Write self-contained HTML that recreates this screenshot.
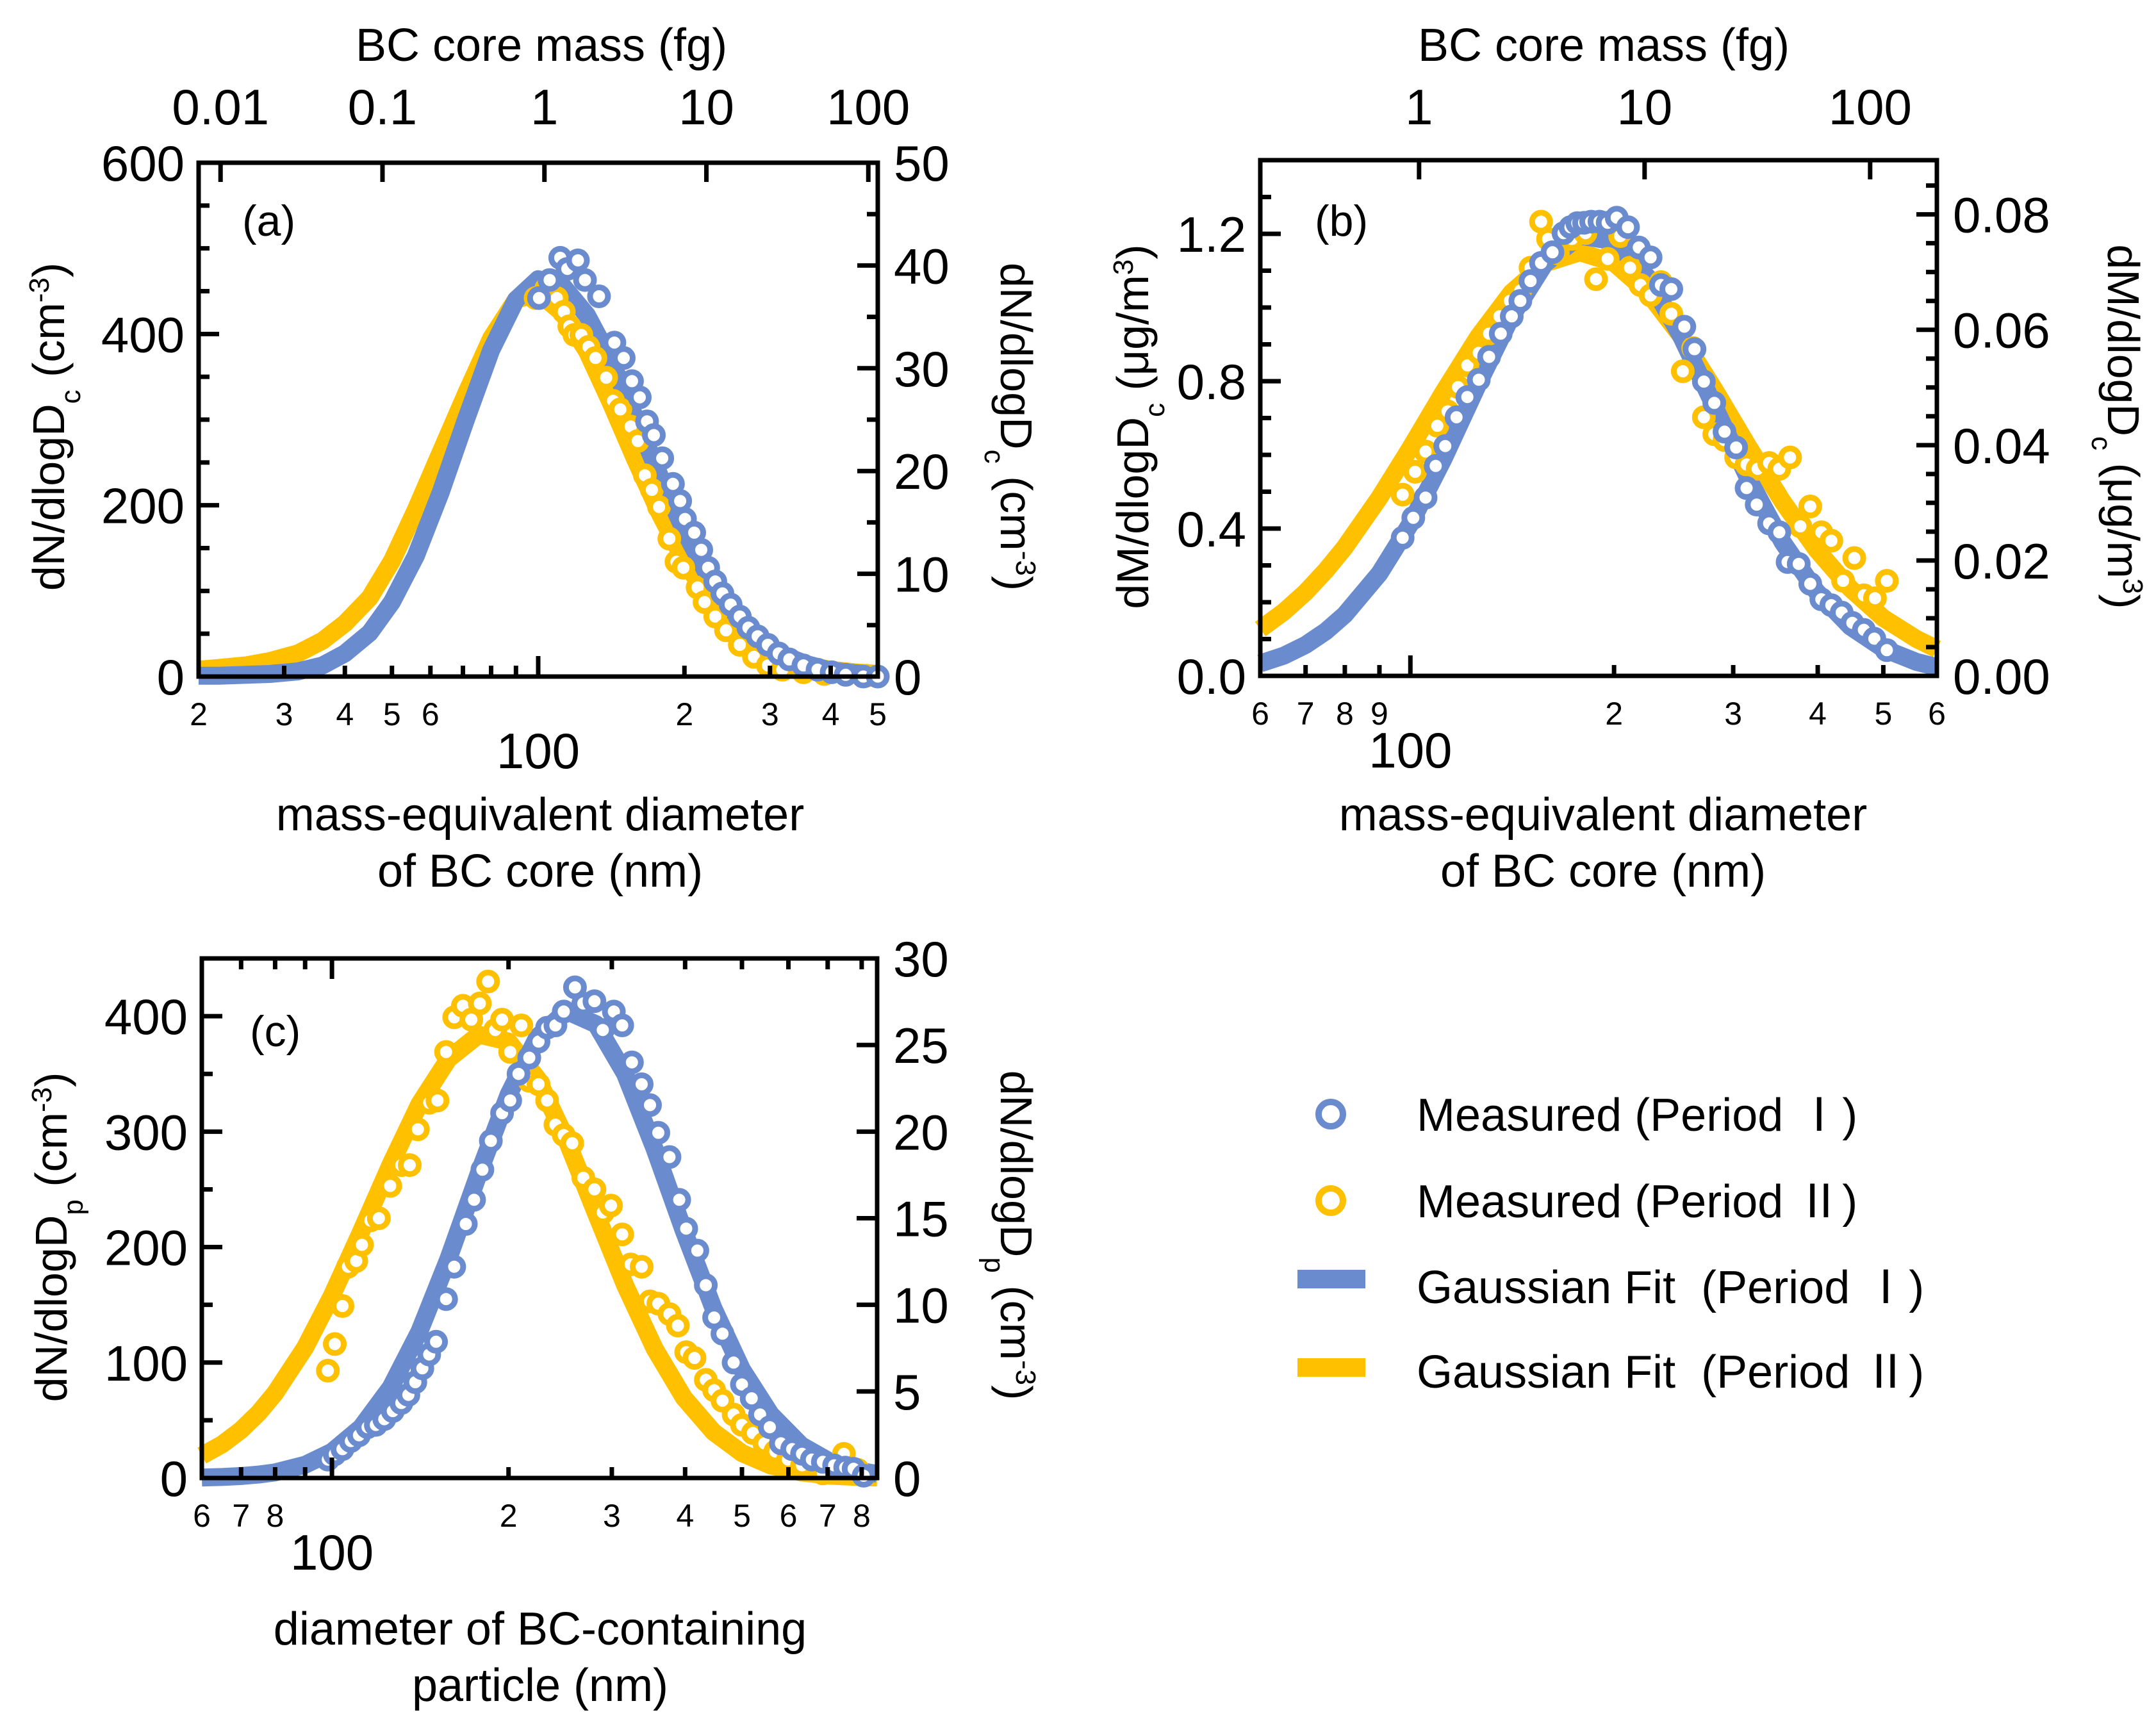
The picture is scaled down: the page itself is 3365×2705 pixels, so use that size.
<!DOCTYPE html>
<html><head><meta charset="utf-8"><style>
html,body{margin:0;padding:0;background:#fff;}
svg{display:block;}
text{font-family:"Liberation Sans","Noto Sans CJK SC",sans-serif;fill:#000;}
</style></head>
<body>
<svg id="fig" width="3365" height="2705" viewBox="0 0 3365 2705" xmlns="http://www.w3.org/2000/svg">
<rect width="3365" height="2705" fill="#fff"/>
<g id="layer"></g>
<g id="legend">
  <circle cx="2077" cy="1739" r="19" fill="#fff" stroke="#6a8ccf" stroke-width="10"/>
  <text x="2211" y="1765" font-size="72" xml:space="preserve">Measured (Period Ⅰ)</text>
  <circle cx="2077" cy="1874" r="19" fill="#fff" stroke="#ffc000" stroke-width="10"/>
  <text x="2211" y="1900" font-size="72" xml:space="preserve">Measured (Period Ⅱ)</text>
  <rect x="2025" y="1982" width="106" height="29" fill="#6a8ccf"/>
  <text x="2211" y="2034" font-size="72" xml:space="preserve">Gaussian Fit  (Period Ⅰ)</text>
  <rect x="2025" y="2120" width="106" height="29" fill="#ffc000"/>
  <text x="2211" y="2166" font-size="72" xml:space="preserve">Gaussian Fit  (Period Ⅱ)</text>
</g>
</svg>
<script>
// ---------- Panel (a) data ----------
const aFitD = [20,22,25,28,32,36,40,45,50,56,63,71,80,90,100,112,126,141,158,178,200,224,251,282,316,355,398,447,500];
const aFitBlue = [1,1,2,3,6,13,27,51,87,141,215,300,381,440,464,457,422,370,304,234,170,117,76,46,26,15,7,4,2];
const aFitYellow = [8,10,13,18,27,42,62,92,135,195,262,330,395,440,448,425,380,320,255,190,135,92,60,38,23,14,8,5,3];
const aMeasBlueD = [100.4,105.6,111,114.8,120.7,124.8,133.4,143.5,150,156,161.8,167.5,173,180,189.4,196,200.5,209.5,216.6,223.8,231.5,239.4,249,260,270.8,283,297,312.7,328.7,351.6,375.8,401.8,429.5,466.8,500];
const aMeasBlue = [442,463,489,476,486,463,444,390,372,345,326,298,282,255,225,205,184,168,148,127,111,97,84,70,57,47,37,27,20,13,8,5,2,0,0];
const aMeasYellowD = [98.8,103.9,109.2,112.9,115.9,118.7,122.7,126.9,131.2,138,142.6,147.6,155,160.3,165.8,171.4,177.3,186.2,192.6,199,212.9,220,231.5,243.5,260,278,297,318,351.6,388,429.5,474,500];
const aMeasYellow = [442,453,442,426,409,399,399,385,372,349,322,312,292,275,235,218,198,161,134,127,104,87,70,54,37,23,13,8,5,3,2,1,0];
// ---------- Panel (b) data ----------
const bFitD = [60,65,70,75,80,90,100,112,126,141,158,178,200,224,251,282,316,355,398,447,500,560,600];
const bFitBlue = [0.034,0.055,0.084,0.121,0.166,0.278,0.413,0.59,0.793,0.975,1.119,1.195,1.18,1.083,0.924,0.728,0.535,0.363,0.23,0.134,0.074,0.038,0.024];
const bFitYellow = [0.127,0.174,0.227,0.286,0.349,0.484,0.619,0.771,0.921,1.04,1.12,1.15,1.121,1.042,0.923,0.775,0.622,0.473,0.344,0.237,0.157,0.1,0.073];
const bMeasBlueD = [97.4,101,105.3,109,112.6,117,121.4,126.2,130.7,136,141.2,145.4,150.5,156,162.2,168.4,172.4,176.5,180.6,185,190.3,195.7,201.8,209.7,217.6,226.5,234.6,243,254,263,271.5,281.3,291.3,303,314,325,339,351,361,375,390,405,419,434,450,468,485,506];
const bMeasBlue = [0.375,0.429,0.484,0.57,0.624,0.702,0.757,0.804,0.866,0.929,0.976,1.018,1.072,1.121,1.15,1.202,1.218,1.229,1.23,1.233,1.233,1.23,1.244,1.218,1.163,1.136,1.061,1.05,0.948,0.887,0.799,0.741,0.663,0.62,0.51,0.465,0.414,0.39,0.309,0.304,0.25,0.208,0.192,0.172,0.144,0.125,0.101,0.07];
const bMeasYellowD = [97.4,101.6,105.3,109.6,113.5,117.6,121.4,126.2,130.7,135.4,140.3,145.4,150.5,156,159.8,165.2,173.3,181.5,188.1,195.7,204.2,211.2,218.8,226.5,234.6,243,252.7,261.8,271.5,281.3,291.3,303,314,326,339,351,364,377,390,405,419,436,453,468,486,506];
const bMeasYellow = [0.492,0.554,0.609,0.679,0.718,0.784,0.843,0.877,0.929,0.976,1.018,1.046,1.108,1.233,1.186,1.147,1.186,1.202,1.077,1.132,1.194,1.108,1.061,1.033,1.069,0.983,0.827,0.89,0.702,0.656,0.64,0.593,0.574,0.562,0.578,0.562,0.593,0.406,0.46,0.39,0.367,0.258,0.32,0.219,0.211,0.258];
// ---------- Panel (c) data ----------
const cFitD = [60,65,70,75,80,90,100,112,126,141,158,178,200,224,251,282,316,355,398,447,500,560,631,708,800,850];
const cFitBlue = [0.4,0.9,1.7,3,4.9,11.5,22.7,43.6,78.7,127,190,264,332,382,404.5,393,350,285,214,147,94,55,28.3,13.8,5.8,3.6];
const cFitYellow = [19.4,29.2,41.6,56.4,73.5,113,158,213,272,324,363,384,378,346,293,229,167,112,69.6,39.9,21.6,10.8,4.8,2,0.8,0.4];
const cMeasBlueD = [98.4,101.1,104.2,107.7,111.2,115,118.8,122.8,127,131.3,135,138.7,142.6,146.5,150.5,156.5,161.6,169.1,174.7,180.5,186.6,195,201.3,208,217,225,232.7,240.4,248.4,259.6,268.2,280.2,289.5,302.4,312.5,324.6,337.3,348.5,360.1,376.2,390.9,401.7,419.7,433.8,448.3,463.2,483.9,500,519.5,536.8,557.8,582.7,609,633,658,687,718,750,775,806];
const cMeasBlue = [16,20.6,25,32,37,44,46,51,58,65,72,83,95,107,118,155,183,220,241,267,292,316,327,350,364,378,390,392,404,425,411,413,388,404,392,360,341,323,299,278,241,216,197,167,139,125,100,81,69,55,44,30,25,21,16,14,11,9,8,2];
const cMeasYellowD = [98.4,101.1,104.2,106.5,110,112.5,116.3,120.2,125.7,131.3,135.7,140.1,146.5,151.3,156.5,161.6,167.2,172.8,178.7,184.6,189.8,195,201.3,210.3,217,225,232.7,240.4,248.4,256.8,268.2,280.2,289.5,299,312.5,323,337.3,348.5,360.1,376.2,388.8,401.7,415,433.8,448.3,463.2,483.9,500,522,546,570,599,633,687,746,788];
const cMeasYellow = [93,116,149,183,188,202,223,225,253,271,271,302,325,327,369,399,409,397,411,430,388,397,369,392,344,341,327,306,297,290,260,250,230,236,211,185,183,153,151,142,132,109,104,85,76,67,55,46,39,30,23,16,11,4,21,7];

// ---------- rendering ----------
const NS = 'http://www.w3.org/2000/svg';
const layer = document.getElementById('layer');
const BLUE = '#6a8ccf', YELLOW = '#ffc000';
function mk(tag, attrs, parent) {
  const e = document.createElementNS(NS, tag);
  for (const k in attrs) e.setAttribute(k, attrs[k]);
  (parent || layer).appendChild(e);
  return e;
}
function makePanel(p) {
  const lx0 = Math.log10(p.dmin), lx1 = Math.log10(p.dmax);
  p.x = d => p.left + (Math.log10(d) - lx0) / (lx1 - lx0) * (p.right - p.left);
  p.y = v => p.bottom - v / p.vmax * (p.bottom - p.top);
  p.yr = v => p.bottom - v / p.rmax * (p.bottom - p.top);
  const g = mk('g', {});
  
  
  p.g = g;
  return p;
}
function line(g, x1, y1, x2, y2, w, name) {
  const l = mk('line', {x1, y1, x2, y2, stroke: '#000', 'stroke-width': w}, g);
  
  
  return l;
}
function txt(g, x, y, s, size, anchor, name) {
  const t = mk('text', {x, y, 'font-size': size, 'text-anchor': anchor || 'middle'}, g);
  t.textContent = s;
  
  
  return t;
}
function fitLine(p, ds, vs, color, name) {
  const pts = ds.map((d, i) => p.x(d).toFixed(1) + ',' + p.y(vs[i]).toFixed(1)).join(' ');
  const pl = mk('polyline', {points: pts, fill: 'none', stroke: color, 'stroke-width': 28, 'stroke-linejoin': 'round'}, p.g);
  
  
}
function markers(p, ds, vs, color, name) {
  const g = mk('g', {}, p.g);
  
  
  ds.forEach((d, i) => {
    const c = mk('circle', {cx: p.x(d).toFixed(1), cy: p.y(vs[i]).toFixed(1), r: 14, fill: '#fff', stroke: color, 'stroke-width': 9}, g);
    
    
  });
}
function frame(p) {
  const r = mk('rect', {x: p.left, y: p.top, width: p.right - p.left, height: p.bottom - p.top, fill: 'none', stroke: '#000', 'stroke-width': 7}, p.g);
  
  
}
function leftTicks(p, majors, minors, labels) {
  majors.forEach((v, i) => {
    const y = p.y(v);
    line(p.g, p.left, y, p.left + 32, y, 7, 'left-major-tick');
    txt(p.g, p.left - 22, y + 28, labels[i], 78, 'end', 'left-tick-label');
  });
  minors.forEach(v => line(p.g, p.left, p.y(v), p.left + 17, p.y(v), 7, 'left-minor-tick'));
}
function rightTicks(p, majors, minors, labels) {
  majors.forEach((v, i) => {
    const y = p.yr(v);
    line(p.g, p.right - 32, y, p.right, y, 7, 'right-major-tick');
    txt(p.g, p.right + 25, y + 28, labels[i], 78, 'start', 'right-tick-label');
  });
  minors.forEach(v => line(p.g, p.right - 17, p.yr(v), p.right, p.yr(v), 7, 'right-minor-tick'));
}
function bottomTicks(p, minorVals, minorLabels, majorVal, mirrorTop) {
  minorVals.forEach((d, i) => {
    const x = p.x(d);
    line(p.g, x, p.bottom, x, p.bottom - 17, 7, 'bottom-minor-tick');
    if (mirrorTop) line(p.g, x, p.top, x, p.top + 17, 7, 'top-minor-tick');
    if (minorLabels[i] !== '') txt(p.g, x, p.bottom + 76, minorLabels[i], 50, 'middle', 'bottom-minor-tick-label');
  });
  const xm = p.x(majorVal);
  line(p.g, xm, p.bottom, xm, p.bottom - 32, 7, 'bottom-major-tick');
  if (mirrorTop) line(p.g, xm, p.top, xm, p.top + 32, 7, 'top-major-tick');
  txt(p.g, xm, p.bottom + 143, '100', 78, 'middle', 'bottom-major-tick-label');
}
// top mass axis: mass (fg) -> D = 103 * m^(1/3)
const massTicksA = [0.01, 0.1, 1, 10, 100];
const massTicksB = [1, 10, 100];
function massAxis(p, masses) {
  masses.forEach(m => {
    const x = p.x(103 * Math.cbrt(m));
    line(p.g, x, p.top, x, p.top + 30, 7, 'top-mass-tick');
    txt(p.g, x, 194, String(m), 78, 'middle', 'top-mass-tick-label');
  });
}
function rotTitle(g, x, y, angle, parts, name) {
  const t = mk('text', {transform: `translate(${x},${y}) rotate(${angle})`, 'font-size': 70, 'text-anchor': 'middle'}, g);
  
  
  parts.forEach(pt => {
    const s = mk('tspan', pt[1] ? {'baseline-shift': pt[1], 'font-size': 44} : {}, t);
    s.textContent = pt[0];
  });
}

// ---- Panel A ----
const A = makePanel({name: 'panel-a', left: 310, right: 1370, top: 254, bottom: 1056, dmin: 20, dmax: 500, vmax: 600, rmax: 50});
fitLine(A, aFitD, aFitYellow, YELLOW, 'fit-period-2');
fitLine(A, aFitD, aFitBlue, BLUE, 'fit-period-1');
markers(A, aMeasYellowD, aMeasYellow, YELLOW, 'measured-period-2');
markers(A, aMeasBlueD, aMeasBlue, BLUE, 'measured-period-1');
frame(A);
leftTicks(A, [0, 200, 400, 600], [50, 100, 150, 250, 300, 350, 450, 500, 550], ['0', '200', '400', '600']);
rightTicks(A, [0, 10, 20, 30, 40, 50], [5, 15, 25, 35, 45], ['0', '10', '20', '30', '40', '50']);
bottomTicks(A, [20, 30, 40, 50, 60, 70, 80, 90, 200, 300, 400, 500], ['2', '3', '4', '5', '6', '', '', '', '2', '3', '4', '5'], 100, false);
massAxis(A, massTicksA);
txt(A.g, 845, 95, 'BC core mass (fg)', 72, 'middle', 'top-axis-title');
txt(A.g, 843, 1296, 'mass-equivalent diameter', 72, 'middle', 'x-axis-title-line1');
txt(A.g, 843, 1384, 'of BC core (nm)', 72, 'middle', 'x-axis-title-line2');
txt(A.g, 378, 368, '(a)', 68, 'start', 'panel-label');
rotTitle(A.g, 100, 666, -90, [['dN/dlogD'], ['c', 'sub'], [' (cm'], ['-3', 'super'], [')']], 'y-axis-title-left');
rotTitle(A.g, 1562, 666, 90, [['dN/dlogD'], ['c', 'sub'], [' (cm'], ['-3', 'super'], [')']], 'y-axis-title-right');

// ---- Panel B ----
const B = makePanel({name: 'panel-b', left: 1967, right: 3023, top: 250, bottom: 1055, dmin: 60, dmax: 600, vmax: 1.4, rmax: 0.0894});
fitLine(B, bFitD, bFitYellow, YELLOW, 'fit-period-2');
fitLine(B, bFitD, bFitBlue, BLUE, 'fit-period-1');
markers(B, bMeasYellowD, bMeasYellow, YELLOW, 'measured-period-2');
markers(B, bMeasBlueD, bMeasBlue, BLUE, 'measured-period-1');
frame(B);
leftTicks(B, [0, 0.4, 0.8, 1.2], [0.1, 0.2, 0.3, 0.5, 0.6, 0.7, 0.9, 1.0, 1.1, 1.3], ['0.0', '0.4', '0.8', '1.2']);
rightTicks(B, [0, 0.02, 0.04, 0.06, 0.08], [0.005, 0.01, 0.015, 0.025, 0.03, 0.035, 0.045, 0.05, 0.055, 0.065, 0.07, 0.075, 0.085], ['0.00', '0.02', '0.04', '0.06', '0.08']);
bottomTicks(B, [60, 70, 80, 90, 200, 300, 400, 500, 600], ['6', '7', '8', '9', '2', '3', '4', '5', '6'], 100, false);
massAxis(B, massTicksB);
txt(B.g, 2503, 95, 'BC core mass (fg)', 72, 'middle', 'top-axis-title');
txt(B.g, 2502, 1296, 'mass-equivalent diameter', 72, 'middle', 'x-axis-title-line1');
txt(B.g, 2502, 1384, 'of BC core (nm)', 72, 'middle', 'x-axis-title-line2');
txt(B.g, 2052, 368, '(b)', 68, 'start', 'panel-label');
rotTitle(B.g, 1792, 666, -90, [['dM/dlogD'], ['c', 'sub'], [' (μg/m'], ['3', 'super'], [')']], 'y-axis-title-left');
rotTitle(B.g, 3290, 666, 90, [['dM/dlogD'], ['c', 'sub'], [' (μg/m'], ['3', 'super'], [')']], 'y-axis-title-right');

// ---- Panel C ----
const C = makePanel({name: 'panel-c', left: 315, right: 1369, top: 1496, bottom: 2307, dmin: 60, dmax: 850, vmax: 450, rmax: 30});
fitLine(C, cFitD, cFitYellow, YELLOW, 'fit-period-2');
fitLine(C, cFitD, cFitBlue, BLUE, 'fit-period-1');
markers(C, cMeasYellowD, cMeasYellow, YELLOW, 'measured-period-2');
markers(C, cMeasBlueD, cMeasBlue, BLUE, 'measured-period-1');
frame(C);
leftTicks(C, [0, 100, 200, 300, 400], [50, 150, 250, 350], ['0', '100', '200', '300', '400']);
rightTicks(C, [0, 5, 10, 15, 20, 25, 30], [], ['0', '5', '10', '15', '20', '25', '30']);
bottomTicks(C, [60, 70, 80, 90, 200, 300, 400, 500, 600, 700, 800], ['6', '7', '8', '', '2', '3', '4', '5', '6', '7', '8'], 100, true);
txt(C.g, 843, 2567, 'diameter of BC-containing', 72, 'middle', 'x-axis-title-line1');
txt(C.g, 843, 2655, 'particle (nm)', 72, 'middle', 'x-axis-title-line2');
txt(C.g, 390, 1633, '(c)', 68, 'start', 'panel-label');
rotTitle(C.g, 104, 1931, -90, [['dN/dlogD'], ['p', 'sub'], [' (cm'], ['-3', 'super'], [')']], 'y-axis-title-left');
rotTitle(C.g, 1562, 1928, 90, [['dN/dlogD'], ['p', 'sub'], [' (cm'], ['-3', 'super'], [')']], 'y-axis-title-right');
</script>
</body></html>
